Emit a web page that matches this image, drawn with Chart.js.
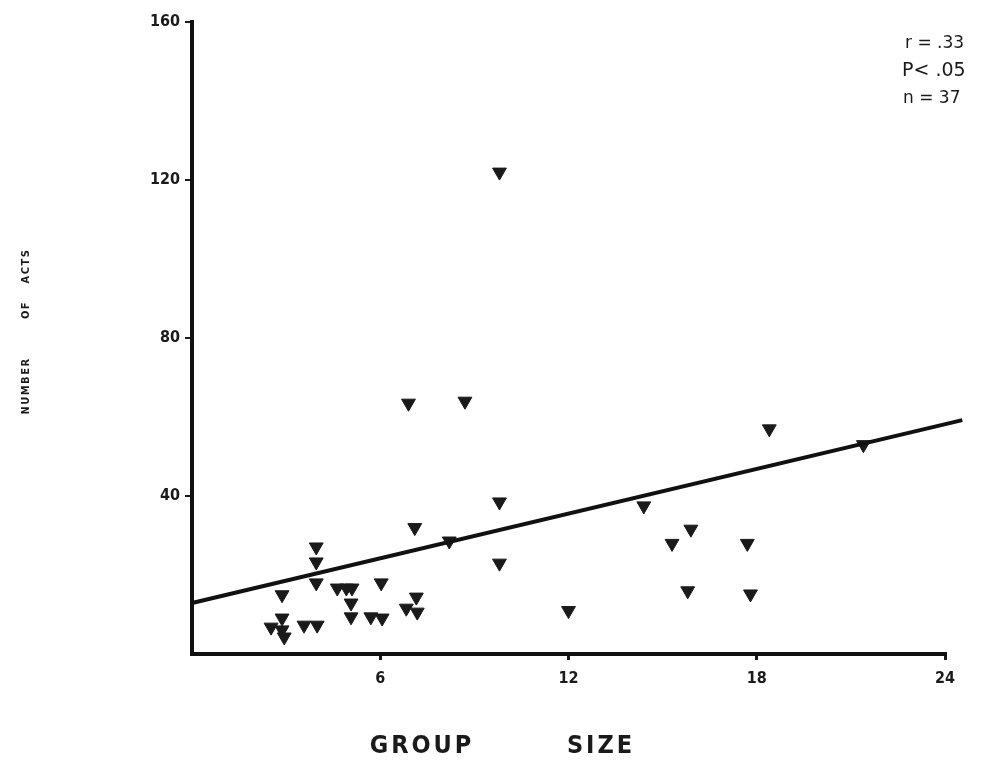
<!DOCTYPE html>
<html>
<head>
<meta charset="utf-8">
<script src="https://cdn.jsdelivr.net/npm/chart.js@4.4.1/dist/chart.umd.min.js"></script>
<style>
  html, body { margin: 0; padding: 0; background: #ffffff; }
  #wrap { width: 995px; height: 775px; position: relative; }
</style>
</head>
<body>
<div id="wrap"><canvas id="c" width="995" height="775"></canvas></div>
<script>
// ---- Data ----
const groupSize = [9.8, 6.9, 8.7, 9.8, 9.8, 7.1, 8.2, 12.0, 14.4, 15.3, 15.9, 15.8, 17.7, 17.8, 18.4, 21.4,
  3.96, 3.96, 3.96, 4.63, 4.92, 5.1, 6.03, 2.87, 5.07, 5.07, 5.7, 6.06, 7.15, 6.83, 7.18, 2.52, 2.87, 2.87, 2.94, 3.57, 3.99];
const numberOfActs = [122, 63.5, 64, 38.5, 23, 32, 28.6, 11, 37.5, 28, 31.6, 16, 28, 15.2, 57, 53,
  27.1, 23.3, 18, 16.7, 16.7, 16.7, 18, 15, 12.9, 9.4, 9.4, 9.1, 14.4, 11.6, 10.6, 6.8, 9.1, 6.1, 4.3, 7.3, 7.3];
const fitX = [0, 24.55];
const fitY = [12.9, 59.2];
const xTicks = [6, 12, 18, 24];
const yTicks = [40, 80, 120, 160];
const statsText = ["r = .33", "P< .05", "n = 37"];
const xTitle = ["GROUP", "SIZE"];
const yTitle = ["NUMBER", "OF", "ACTS"];

const points = groupSize.map((x, i) => ({ x: x, y: numberOfActs[i] }));
const fitLine = fitX.map((x, i) => ({ x: x, y: fitY[i] }));

const tickFont = { family: "'DejaVu Sans Condensed', 'Liberation Sans Narrow', sans-serif", size: 16, weight: 'bold' };

const labelsPlugin = {
  id: 'labels',
  afterDraw(chart) {
    const ctx = chart.ctx;
    ctx.save();
    ctx.fillStyle = '#1a1a1a';
    // stats text
    ctx.font = "17px 'DejaVu Sans', sans-serif";
    ctx.textAlign = 'left';
    ctx.textBaseline = 'middle';
    ctx.fillText(statsText[0], 905, 44);
    ctx.font = "19px 'DejaVu Sans', sans-serif";
    ctx.fillText(statsText[1], 902, 71);
    ctx.font = "17px 'DejaVu Sans', sans-serif";
    ctx.fillText(statsText[2], 903, 99);
    // x title
    ctx.font = "bold 25px 'DejaVu Sans Condensed', sans-serif";
    ctx.textAlign = 'center';
    if (ctx.letterSpacing !== undefined) ctx.letterSpacing = '3px';
    ctx.fillText(xTitle[0], 422, 746);
    ctx.fillText(xTitle[1], 601, 746);
    if (ctx.letterSpacing !== undefined) ctx.letterSpacing = '0px';
    // y title
    ctx.translate(26, 0);
    ctx.rotate(-Math.PI / 2);
    ctx.font = "bold 11px 'DejaVu Sans Condensed', sans-serif";
    ctx.textAlign = 'center';
    if (ctx.letterSpacing !== undefined) ctx.letterSpacing = '1.5px';
    ctx.fillText(yTitle[0], -386, 0);
    ctx.fillText(yTitle[1], -310, 0);
    ctx.fillText(yTitle[2], -266, 0);
    ctx.restore();
  }
};

new Chart(document.getElementById('c'), {
  type: 'scatter',
  data: {
    datasets: [
      {
        label: 'acts',
        data: points,
        pointStyle: 'triangle',
        rotation: 180,
        pointRadius: 8,
        backgroundColor: '#1a1a1a',
        borderColor: '#1a1a1a',
        borderWidth: 1,
        order: 1
      },
      {
        label: 'fit',
        type: 'line',
        data: fitLine,
        borderColor: '#111111',
        borderWidth: 4,
        pointRadius: 0,
        fill: false,
        clip: false,
        order: 0
      }
    ]
  },
  options: {
    responsive: false,
    animation: false,
    devicePixelRatio: 1,
    layout: { padding: { left: 0, right: 50, top: 22, bottom: 0 } },
    plugins: { legend: { display: false }, tooltip: { enabled: false }, title: { display: false } },
    scales: {
      x: {
        type: 'linear',
        min: 0, max: 24,
        afterFit(s) { s.height = 121; },
        afterBuildTicks(s) { s.ticks = xTicks.map(v => ({ value: v })); },
        ticks: { color: '#1a1a1a', font: tickFont, padding: 9, maxRotation: 0 },
        grid: { drawOnChartArea: false, drawTicks: true, tickLength: 6, color: '#1a1a1a', lineWidth: 3 },
        border: { display: true, color: '#111111', width: 4 }
      },
      y: {
        type: 'linear',
        min: 0, max: 160,
        afterFit(s) { s.width = 192; },
        afterBuildTicks(s) { s.ticks = yTicks.map(v => ({ value: v })); },
        ticks: { color: '#1a1a1a', font: tickFont, padding: 5 },
        grid: { drawOnChartArea: false, drawTicks: true, tickLength: 7, color: '#1a1a1a', lineWidth: 2 },
        border: { display: true, color: '#111111', width: 4 }
      }
    }
  },
  plugins: [labelsPlugin]
});
</script>
</body>
</html>
